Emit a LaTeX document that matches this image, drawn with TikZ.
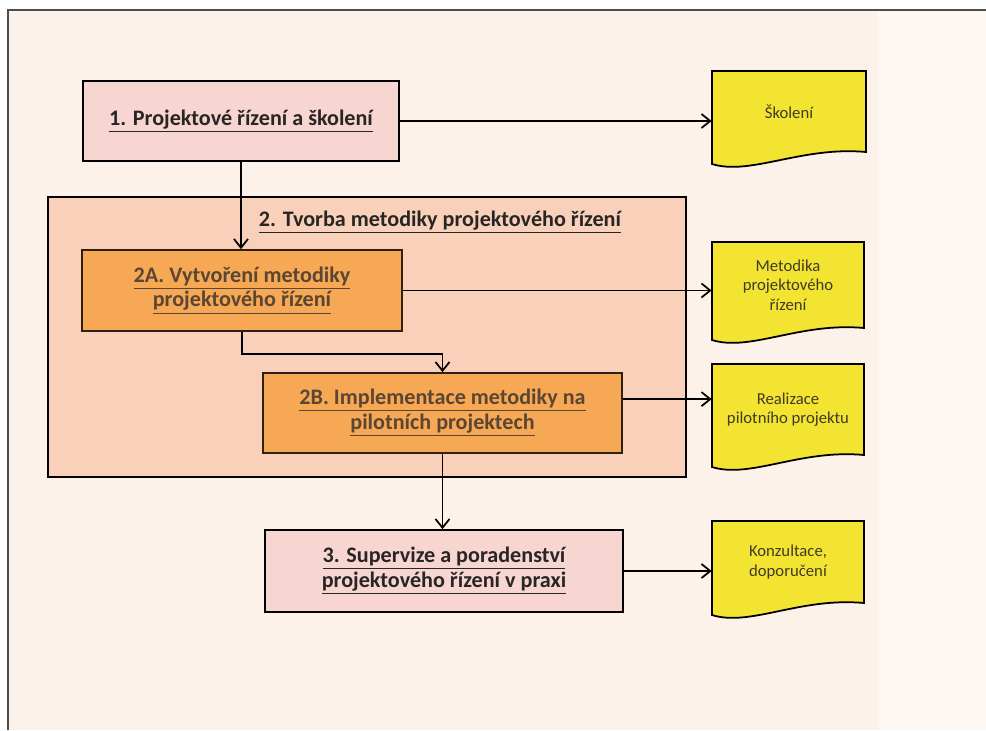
\documentclass[tikz,border=0pt]{standalone}
\usepackage{fontspec}
\setmainfont{Carlito}
\usetikzlibrary{calc, arrows.meta}
\definecolor{paper}{RGB}{252,242,234}
\definecolor{paperlight}{RGB}{254,248,243}
\definecolor{phasepink}{RGB}{247,213,209}
\definecolor{stagepeach}{RGB}{249,208,186}
\definecolor{suborange}{RGB}{246,168,84}
\definecolor{docyellow}{RGB}{242,228,48}
\definecolor{inkdark}{RGB}{40,38,36}
\definecolor{inkbrown}{RGB}{90,70,50}
\definecolor{inkdoc}{RGB}{64,58,40}
\tikzstyle{phase} = [draw=black, fill=phasepink, line width=1pt, align=center, text=inkdark, font=\fontsize{12.6}{14}\selectfont\bfseries]
\tikzstyle{subphase} = [draw=black!75!brown, fill=suborange, line width=1pt, align=center, text=inkbrown, font=\fontsize{12.6}{14}\selectfont\bfseries]
\tikzstyle{stage} = [draw=black, fill=stagepeach, line width=1pt]
\tikzstyle{heading} = [align=center, text=inkdark, font=\fontsize{12.6}{14}\selectfont\bfseries]
\tikzstyle{product} = [align=center, text=inkdoc, font=\fontsize{9.5}{11}\selectfont]
\tikzstyle{docline} = [draw=black, fill=docyellow, line width=1pt]
\tikzstyle{arr} = [-{Straight Barb[length=5pt,width=8pt]}, line width=1pt]
% document symbol: left, top, right, bottom of the right edge
\newcommand{\docshape}[4]{\draw[docline] (#1,#2) -- (#3,#2) -- (#3,#4)
    .. controls +(-64,-6) and +(38,12) .. (#1,#4+12) -- cycle;}

\begin{document}
\begin{tikzpicture}[x=0.02cm, y=-0.02cm]
    \useasboundingbox (0,0) rectangle (986,730);
    \fill[white] (0,0) rectangle (986,730);
    \fill[paper] (8,10) rectangle (878,730);
    \fill[paperlight] (878,10) rectangle (986,730);
    \draw[black!70, line width=1pt] (8,730) -- (8,10) -- (986,10);

    \node (stage2) [stage, minimum width=12.76cm, minimum height=5.6cm] at (367,337) {};
    \node (title2) [heading] at (440,222) {\underline{2. Tvorba metodiky projektového řízení}};

    \node (box1) [phase, minimum width=6.32cm, minimum height=1.6cm] at (241,121)
        {\underline{1. Projektové řízení a školení}};
    \node (box2A) [subphase, minimum width=6.4cm, minimum height=1.62cm] at (242,290.5)
        {\underline{2A. Vytvoření metodiky}\\ \underline{projektového řízení}};
    \node (box2B) [subphase, minimum width=7.18cm, minimum height=1.6cm] at (442.5,413)
        {\underline{2B. Implementace metodiky na}\\ \underline{pilotních projektech}};
    \node (box3) [phase, minimum width=7.16cm, minimum height=1.64cm] at (444,571)
        {\underline{3. Supervize a poradenství}\\ \underline{projektového řízení v praxi}};

    \docshape{712}{71}{866}{152}
    \docshape{712}{242}{864}{328}
    \docshape{712}{364}{864}{455}
    \docshape{712}{521}{864}{603}
    \node (doc1) [product, minimum width=3.08cm, minimum height=1.62cm] at (789,111.5) {Školení};
    \node (doc2) [product, minimum width=3.04cm, minimum height=1.72cm] at (788,285)
        {Metodika\\projektového\\řízení};
    \node (doc3) [product, minimum width=3.04cm, minimum height=1.82cm] at (788,409.5)
        {Realizace\\pilotního projektu};
    \node (doc4) [product, minimum width=3.04cm, minimum height=1.64cm] at (788,562)
        {Konzultace,\\doporučení};

    \coordinate (out2B) at ($(box2B.north east)!0.33!(box2B.south east)$);

    \draw[arr] (box1) -- (box1 -| doc1.west);
    \draw[arr] (box1.south) -- (box1.south |- box2A.north);
    \draw[arr] (box2A) -- (box2A -| doc2.west);
    \draw[arr] (box2A.south) -- ++(0,22) -| (box2B.north);
    \draw[arr] (out2B) -- (out2B -| doc3.west);
    \draw[arr] (box2B.south) -- (box2B.south |- box3.north);
    \draw[arr] (box3) -- (box3 -| doc4.west);
\end{tikzpicture}
\end{document}
